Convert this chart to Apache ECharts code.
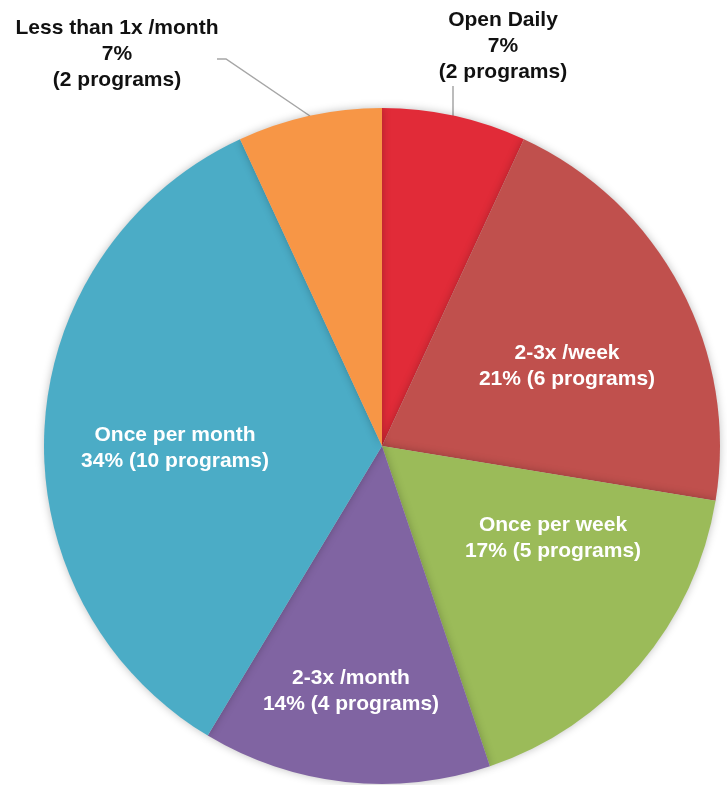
<!DOCTYPE html>
<html>
<head>
<meta charset="utf-8">
<script src="https://cdn.jsdelivr.net/npm/echarts@6/dist/echarts.min.js"></script>
<style>
  html, body { margin: 0; padding: 0; background: #fff; }
  #chart { width: 727px; height: 785px; }
</style>
</head>
<body>
<div id="chart"></div>
<script>
// slices, clockwise from 12 o'clock
const names = ['Open Daily', '2-3x /week', 'Once per week', '2-3x /month', 'Once per month', 'Less than 1x /month']
const programs = [2, 6, 5, 4, 10, 2]
const colors = ['#e12b38', '#c0504d', '#9bbb59', '#8064a2', '#4bacc6', '#f79646']
const outside = [true, false, false, false, false, true]

// where each label block sits (centre of text)
const labelPos = [[503, 46], [567, 366], [553, 538], [351, 691], [175, 448], [117, 54]]
// leader lines for the two outside labels
const leaders = {
  0: [[453, 116], [453, 86], [453, 86]],
  5: [[310, 116], [226, 59], [217, 59]]
}

const chart = echarts.init(document.getElementById('chart'), null, { renderer: 'canvas' })

const data = names.map((name, i) => ({
  name,
  value: programs[i],
  itemStyle: { color: colors[i] },
  label: outside[i]
    ? { position: 'outside', color: '#111', formatter: '{b}\n{d}%\n({c} programs)' }
    : { position: 'inside', color: '#fff', formatter: '{b}\n{d}% ({c} programs)' },
  labelLine: { show: outside[i] }
}))

chart.setOption({
  backgroundColor: '#fff',
  animation: false,
  series: [{
    type: 'pie',
    center: [382, 446],
    radius: 338,
    startAngle: 90,
    clockwise: true,
    percentPrecision: 0,
    itemStyle: {
      shadowBlur: 8,
      shadowColor: 'rgba(0,0,0,0.25)'
    },
    label: {
      fontFamily: 'Arial, sans-serif',
      fontWeight: 'bold',
      fontSize: 21,
      lineHeight: 26,
      align: 'center'
    },
    labelLine: {
      lineStyle: { color: '#a6a6a6', width: 1.5 },
      length: 20,
      length2: 10
    },
    labelLayout: function (p) {
      const pos = labelPos[p.dataIndex]
      const out = { x: pos[0], y: pos[1], align: 'center', verticalAlign: 'middle' }
      if (leaders[p.dataIndex]) out.labelLinePoints = leaders[p.dataIndex]
      return out
    },
    data: data
  }]
})
</script>
</body>
</html>
